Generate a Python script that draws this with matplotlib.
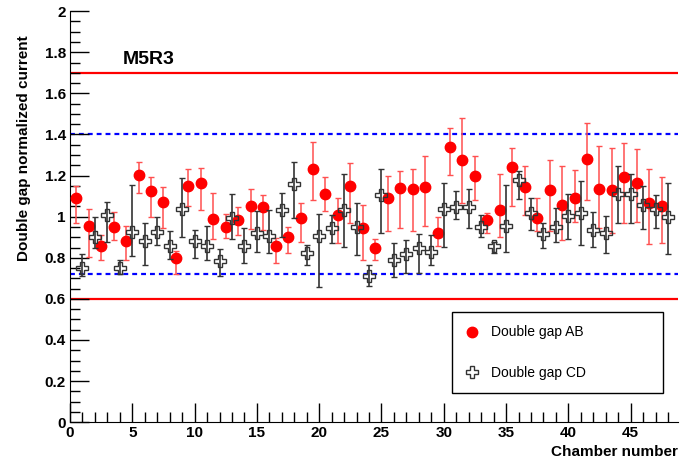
import numpy as np
import matplotlib
matplotlib.use("Agg")
import matplotlib.pyplot as plt
from matplotlib.ticker import MultipleLocator, FuncFormatter
from matplotlib.lines import Line2D

plt.rcParams['font.family'] = ['Liberation Sans', 'DejaVu Sans']

# numero di camera (1..48); AB disegnato mezzo passo a sinistra
chamber = np.arange(1, 49)

# Double gap AB: valore, estremo alto, estremo basso
ab_val = [1.090, 0.955, 0.855, 0.952, 0.884, 1.203, 1.126, 1.073, 0.798, 1.150,
          1.163, 0.988, 0.952, 0.984, 1.053, 1.047, 0.855, 0.900, 0.993, 1.233,
          1.111, 1.009, 1.147, 0.944, 0.847, 1.091, 1.142, 1.134, 1.144, 0.920,
          1.338, 1.276, 1.199, 0.984, 1.033, 1.241, 1.144, 0.993, 1.130, 1.057,
          1.090, 1.280, 1.135, 1.130, 1.192, 1.163, 1.069, 1.053]
ab_hi = [1.150, 1.036, 0.911, 1.025, 0.955, 1.268, 1.195, 1.143, 0.835, 1.231,
         1.239, 1.117, 1.014, 1.046, 1.134, 1.106, 0.895, 0.952, 1.067, 1.362,
         1.192, 1.090, 1.260, 1.057, 0.890, 1.199, 1.224, 1.233, 1.296, 0.998,
         1.431, 1.479, 1.293, 1.017, 1.208, 1.333, 1.247, 1.090, 1.276, 1.247,
         1.228, 1.458, 1.345, 1.333, 1.361, 1.328, 1.231, 1.192]
ab_lo = [0.968, 0.803, 0.790, 0.887, 0.790, 1.114, 1.000, 0.947, 0.722, 1.053,
         1.033, 0.890, 0.895, 0.911, 0.939, 0.936, 0.777, 0.822, 0.879, 1.082,
         1.028, 0.874, 0.968, 0.790, 0.790, 0.932, 0.944, 0.931, 0.955, 0.855,
         1.203, 1.066, 1.082, 0.920, 0.903, 1.053, 1.009, 0.928, 0.928, 0.887,
         0.976, 1.082, 0.944, 0.920, 0.968, 0.976, 0.868, 0.874]

# Double gap CD
cd_val = [0.749, 0.900, 1.007, 0.749, 0.924, 0.882, 0.924, 0.855, 1.039, 0.884,
          0.858, 0.785, 0.993, 0.858, 0.923, 0.908, 1.033, 1.160, 0.822, 0.907,
          0.944, 1.033, 0.949, 0.712, 1.105, 0.787, 0.817, 0.847, 0.830, 1.036,
          1.046, 1.046, 0.949, 0.855, 0.955, 1.179, 1.020, 0.916, 0.949, 1.004,
          1.017, 0.936, 0.920, 1.111, 1.111, 1.057, 1.036, 1.000]
cd_hi = [0.819, 1.000, 1.073, 0.790, 1.155, 0.971, 1.000, 0.928, 1.187, 0.936,
         0.955, 0.842, 1.111, 0.944, 1.030, 1.033, 1.114, 1.268, 0.863, 1.014,
         1.009, 1.207, 1.069, 0.765, 1.231, 0.871, 0.887, 0.916, 0.911, 1.166,
         1.127, 1.134, 1.009, 0.879, 1.155, 1.220, 1.090, 0.968, 1.041, 1.111,
         1.174, 1.025, 1.004, 1.247, 1.208, 1.150, 1.106, 1.166]
cd_lo = [0.709, 0.847, 0.879, 0.722, 0.809, 0.765, 0.863, 0.793, 0.903, 0.798,
         0.790, 0.709, 0.890, 0.777, 0.830, 0.822, 0.903, 0.993, 0.765, 0.660,
         0.871, 0.852, 0.814, 0.663, 0.923, 0.705, 0.725, 0.728, 0.765, 0.852,
         0.988, 0.944, 0.900, 0.822, 0.830, 1.085, 0.936, 0.847, 0.879, 0.890,
         0.863, 0.852, 0.822, 0.968, 0.968, 0.939, 0.944, 0.819]

# limiti orizzontali
red_lines = [1.7, 0.6]
blue_lines = [1.4, 0.72]

ab_val, ab_hi, ab_lo = map(np.array, (ab_val, ab_hi, ab_lo))
cd_val, cd_hi, cd_lo = map(np.array, (cd_val, cd_hi, cd_lo))

fig = plt.figure(figsize=(6.8, 4.66), dpi=100)
ax = fig.add_axes([0.103, 0.094, 0.894, 0.882])

for y in red_lines:
    ax.axhline(y, color='#ff0000', lw=1.6, zorder=1)
for y in blue_lines:
    ax.axhline(y, color='#0000ff', lw=1.6, ls=(0, (2.2, 1.8)), zorder=1)

ax.errorbar(chamber - 0.5, ab_val, yerr=[ab_val - ab_lo, ab_hi - ab_val],
            fmt='o', color='#ff0000', ms=7.5, mec='#ff0000', ecolor='#ff5050',
            elinewidth=1.1, capsize=2, capthick=1.0, zorder=3)
ax.errorbar(chamber, cd_val, yerr=[cd_val - cd_lo, cd_hi - cd_val],
            fmt='P', mfc='none', mec='#333333', mew=1.0, ms=8,
            ecolor='#333333', elinewidth=1.2, capsize=2, capthick=1.0,
            zorder=4)

ax.set_xlim(0, 48.8)
ax.set_ylim(0, 2)
ax.xaxis.set_major_locator(MultipleLocator(5))
ax.xaxis.set_minor_locator(MultipleLocator(1))
ax.yaxis.set_major_locator(MultipleLocator(0.2))
ax.yaxis.set_minor_locator(MultipleLocator(0.05))
ax.yaxis.set_major_formatter(FuncFormatter(lambda v, p: ('%g' % round(v, 2))))
ax.tick_params(which='major', direction='in', length=14, width=1,
               labelsize=11, pad=3)
ax.tick_params(which='minor', direction='in', length=7, width=1)
for lab in ax.get_xticklabels() + ax.get_yticklabels():
    lab.set_fontweight('bold')

for s in ('top', 'right'):
    ax.spines[s].set_visible(False)

ax.set_ylabel('Double gap normalized current', fontsize=11, fontweight='bold')
ax.yaxis.set_label_coords(-0.064, 0.667)
ax.set_xlabel('Chamber number', fontsize=11, fontweight='bold', ha='right')
ax.xaxis.set_label_coords(1.0, -0.055)

ax.text(0.086, 0.872, 'M5R3', transform=ax.transAxes, fontsize=14,
        fontweight='bold')

# legenda solo con i marker, come in ROOT
handles = [Line2D([], [], ls='none', marker='o', color='#ff0000', ms=7.5),
           Line2D([], [], ls='none', marker='P', mfc='none', mec='#333333',
                  mew=1.0, ms=8)]
leg = ax.legend(handles, ['Double gap AB', 'Double gap CD'], loc='lower left',
                bbox_to_anchor=(0.628, 0.071, 0.347, 0.195), mode='expand',
                borderaxespad=0, fancybox=False, edgecolor='black', fontsize=10,
                framealpha=1, borderpad=0.95, labelspacing=1.9,
                handlelength=1.0, handletextpad=0.9)
leg.get_frame().set_linewidth(1.0)

fig.savefig('out.png', dpi=100)
